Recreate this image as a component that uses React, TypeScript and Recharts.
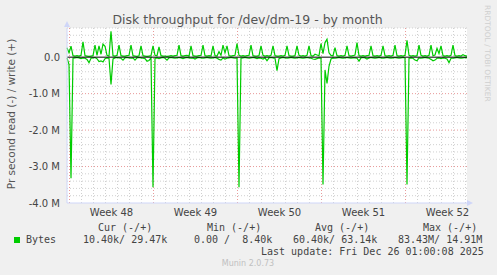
import { LineChart, Line, XAxis, YAxis, CartesianGrid, ReferenceLine } from 'recharts';

// values in millions of bytes per second, one sample every 4 hours
const HOURS_PER_SAMPLE = 4;

const writeM = [
  0.26, 0.12, 0.3, 0.04, 0.03, 0.04, 0.03, 0.05, 0.42, 0.04,
  0.03, 0.02, 0.03, 0.04, 0.33, 0.05, 0.31, 0.08, 0.36, 0.3,
  0.05, 0.03, 0.71, 0.04, 0.03, 0.05, 0.33, 0.04, 0.03, 0.03,
  0.04, 0.05, 0.33, 0.04, 0.03, 0.02, 0.04, 0.31, 0.04, 0.03,
  0.02, 0.03, 0.04, 0.31, 0.05, 0.04, 0.28, 0.04, 0.03, 0.03,
  0.02, 0.03, 0.04, 0.03, 0.04, 0.05, 0.33, 0.04, 0.03, 0.04,
  0.05, 0.03, 0.31, 0.04, 0.03, 0.03, 0.04, 0.05, 0.33, 0.04,
  0.03, 0.04, 0.03, 0.31, 0.04, 0.03, 0.15, 0.05, 0.33, 0.12,
  0.31, 0.04, 0.03, 0.04, 0.05, 0.37, 0.05, 0.03, 0.04, 0.03,
  0.04, 0.05, 0.33, 0.04, 0.03, 0.03, 0.04, 0.31, 0.05, 0.03,
  0.04, 0.03, 0.05, 0.31, 0.04, 0.03, 0.03, 0.04, 0.03, 0.05,
  0.31, 0.04, 0.03, 0.03, 0.04, 0.31, 0.05, 0.03, 0.04, 0.03,
  0.05, 0.31, 0.04, 0.03, 0.08, 0.06, 0.04, 0.37, 0.1, 0.4,
  0.49, 0.12, 0.05, 0.04, 0.26, 0.04, 0.03, 0.04, 0.03, 0.05,
  0.31, 0.04, 0.03, 0.04, 0.06, 0.4, 0.04, 0.03, 0.04, 0.03,
  0.04, 0.05, 0.31, 0.04, 0.03, 0.04, 0.03, 0.05, 0.31, 0.04,
  0.03, 0.04, 0.03, 0.05, 0.33, 0.04, 0.03, 0.04, 0.03, 0.05,
  0.46, 0.05, 0.03, 0.04, 0.03, 0.04, 0.33, 0.05, 0.03, 0.04,
  0.03, 0.05, 0.33, 0.04, 0.06, 0.24, 0.1, 0.31, 0.04, 0.03,
  0.04, 0.03, 0.05, 0.33, 0.04, 0.03, 0.04, 0.03, 0.07, 0.04,
  0.03,
];

// read is plotted downwards (negative)
const readM = [
  0.02, 0.2, 3.32, 0.03, 0.02, 0.01, 0.02, 0.04, 0.02, 0.03,
  0.06, 0.15, 0.03, 0.02, 0.01, 0.04, 0.12, 0.1, 0.13, 0.04,
  0.02, 0.03, 0.75, 0.05, 0.02, 0.01, 0.02, 0.03, 0.08, 0.02,
  0.01, 0.02, 0.03, 0.02, 0.08, 0.02, 0.01, 0.02, 0.03, 0.04,
  0.11, 0.09, 0.02, 3.57, 0.03, 0.02, 0.04, 0.02, 0.01, 0.03,
  0.08, 0.02, 0.01, 0.02, 0.03, 0.02, 0.01, 0.02, 0.04, 0.02,
  0.01, 0.02, 0.03, 0.02, 0.05, 0.02, 0.01, 0.02, 0.03, 0.02,
  0.01, 0.02, 0.03, 0.02, 0.01, 0.03, 0.06, 0.08, 0.02, 0.05,
  0.03, 0.02, 0.01, 0.02, 0.03, 0.02, 3.57, 0.03, 0.02, 0.01,
  0.02, 0.03, 0.02, 0.01, 0.02, 0.04, 0.02, 0.03, 0.05, 0.02,
  0.1, 0.02, 0.01, 0.02, 0.03, 0.37, 0.04, 0.02, 0.01, 0.02,
  0.03, 0.02, 0.01, 0.02, 0.03, 0.02, 0.01, 0.02, 0.03, 0.02,
  0.01, 0.02, 0.03, 0.05, 0.06, 0.04, 0.02, 0.03, 3.49, 0.35,
  0.72, 0.25, 0.05, 0.02, 0.03, 0.02, 0.01, 0.02, 0.03, 0.02,
  0.01, 0.02, 0.03, 0.02, 0.02, 0.03, 0.11, 0.02, 0.01, 0.02,
  0.05, 0.02, 0.01, 0.02, 0.03, 0.02, 0.01, 0.02, 0.03, 0.02,
  0.01, 0.02, 0.03, 0.02, 0.01, 0.02, 0.03, 0.02, 0.01, 0.02,
  3.49, 0.03, 0.02, 0.03, 0.08, 0.1, 0.02, 0.03, 0.02, 0.01,
  0.02, 0.03, 0.06, 0.1, 0.08, 0.03, 0.02, 0.04, 0.02, 0.03,
  0.05, 0.15, 0.03, 0.03, 0.02, 0.01, 0.02, 0.03, 0.02, 0.01,
  0.02,
];

const weekLabels = ['Week 48', 'Week 49', 'Week 50', 'Week 51', 'Week 52'];
const weekStarts = [5, 173, 341, 509, 677]; // hours from left edge
const yTicks = [-4, -3, -2, -1, 0];

const legendHeads = ['Cur (-/+)', 'Min (-/+)', 'Avg (-/+)', 'Max (-/+)'];
const legendVals = ['10.40k/ 29.47k', '0.00 /  8.40k', '60.40k/ 63.14k', '83.43M/ 14.91M'];
const lastUpdate = 'Last update: Fri Dec 26 01:00:08 2025';

const data = writeM.map((w, i) => ({ t: i * HOURS_PER_SAMPLE, write: w, read: -readM[i] }));

const weekCenters = weekStarts.map((s) => s + 84);
const dayLines: number[] = [];
for (let h = 5; h < 800; h += 24) if (!weekStarts.includes(h)) dayLines.push(h);
const minorY: number[] = [];
for (let k = -19; k <= 4; k++) if (k % 5 !== 0) minorY.push(k / 5);

const GREEN = '#00cc00';
const FONT = '#444';
const AXIS = '#cfd6f8';
const SANS = '"DejaVu Sans", sans-serif';
const MONO = '"DejaVu Sans Mono", monospace';

const headX = [98, 207, 315, 423];
const valX = [83, 194, 293, 398];

export default function App() {
  return (
    <div style={{ position: 'absolute', left: 0, top: 0, width: 497, height: 275, background: '#f0f0f0' }}>
      <LineChart width={497} height={275} data={data} margin={{ top: 28, right: 30, bottom: 42, left: 7 }}>
        <CartesianGrid
          fill="#ffffff"
          fillOpacity={1}
          stroke="#d0d0d0"
          strokeDasharray="1 2"
          horizontalValues={minorY}
          verticalValues={dayLines}
        />
        <CartesianGrid
          stroke="#e89a9a"
          strokeDasharray="1 2"
          horizontalValues={[-3, -2, -1]}
          verticalValues={weekStarts}
        />
        <XAxis
          dataKey="t"
          type="number"
          domain={[0, 800]}
          ticks={weekCenters}
          tickFormatter={(v: number) => weekLabels[weekCenters.indexOf(v)]}
          tickLine={false}
          tickSize={0}
          tickMargin={6}
          axisLine={{ stroke: AXIS }}
          height={30}
          tick={{ fill: FONT, fontSize: 10, fontFamily: SANS }}
          interval={0}
        />
        <YAxis
          type="number"
          domain={[-4, 0.8]}
          ticks={yTicks}
          tickFormatter={(v: number) => (v === 0 ? '0.0' : `${v.toFixed(1)} M`)}
          tickLine={false}
          tickSize={0}
          tickMargin={7}
          axisLine={{ stroke: AXIS }}
          width={60}
          tick={{ fill: FONT, fontSize: 10, fontFamily: SANS }}
          interval={0}
          allowDataOverflow
        />
        <Line type="linear" dataKey="read" stroke={GREEN} strokeWidth={1.2} dot={false} isAnimationActive={false} />
        <Line type="linear" dataKey="write" stroke={GREEN} strokeWidth={1.2} dot={false} isAnimationActive={false} />
        <ReferenceLine y={0} stroke="#000" strokeWidth={1} />
      </LineChart>
      <svg width={497} height={275} style={{ position: 'absolute', left: 0, top: 0, pointerEvents: 'none' }}>
        <polygon points="64,27 70,27 67,21" fill={AXIS} />
        <polygon points="467,200 467,206 473,203" fill={AXIS} />
        <text x={247.5} y={24} textAnchor="middle" fontFamily={SANS} fontSize={12.5} fill="#555">
          Disk throughput for /dev/dm-19 - by month
        </text>
        <text
          x={15}
          y={114}
          transform="rotate(-90 15 114)"
          textAnchor="middle"
          fontFamily={SANS}
          fontSize={10.5}
          fill="#555"
        >
          Pr second read (-) / write (+)
        </text>
        <text x={485} y={5} transform="rotate(90 485 5)" fontFamily={SANS} fontSize={7.5} fill="#cfcfcf">
          RRDTOOL / TOBI OETIKER
        </text>
        {legendHeads.map((h, i) => (
          <text key={h} x={headX[i]} y={230.5} fontFamily={MONO} fontSize={10} fill={FONT} style={{ whiteSpace: 'pre' }}>
            {h}
          </text>
        ))}
        <rect x={14} y={237} width={6} height={6} fill={GREEN} />
        <text x={26} y={242.5} fontFamily={MONO} fontSize={10} fill={FONT}>
          Bytes
        </text>
        {legendVals.map((v, i) => (
          <text key={i} x={valX[i]} y={242.5} fontFamily={MONO} fontSize={10} fill={FONT} style={{ whiteSpace: 'pre' }}>
            {v}
          </text>
        ))}
        <text x={261} y={254.5} fontFamily={MONO} fontSize={10} fill={FONT} style={{ whiteSpace: 'pre' }}>
          {lastUpdate}
        </text>
        <text x={248} y={266} textAnchor="middle" fontFamily={SANS} fontSize={8} fill="#c0c0c0">
          Munin 2.0.73
        </text>
      </svg>
    </div>
  );
}
